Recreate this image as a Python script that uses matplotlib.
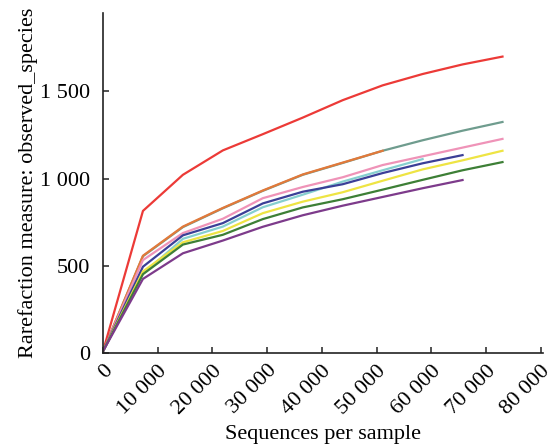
import matplotlib
matplotlib.use("Agg")
import matplotlib.pyplot as plt
from matplotlib.ticker import FuncFormatter

plt.rcParams["font.family"] = ["Liberation Serif", "DejaVu Serif"]

# profundidades de rarefacao (sequencias por amostra)
depth = [0, 7300, 14600, 21900, 29200, 36500, 43800, 51100, 58400, 65700, 73000]

# curvas (observed_species)
red    = [10, 815, 1022, 1162, 1255, 1350, 1450, 1535, 1600, 1655, 1700]
teal   = [10, 555, 722, 830, 930, 1022, 1090, 1160, 1220, 1275, 1325]
orange = [10, 558, 725, 832, 932, 1024, 1092, 1160]
pink   = [10, 533, 688, 770, 888, 952, 1008, 1078, 1128, 1178, 1228]
cyan   = [10, 455, 655, 725, 836, 908, 983, 1048, 1112]
navy   = [10, 495, 675, 745, 858, 925, 968, 1032, 1088, 1135]
yellow = [10, 468, 635, 700, 802, 868, 922, 988, 1053, 1105, 1160]
green  = [10, 452, 622, 678, 768, 835, 882, 937, 993, 1048, 1095]
purple = [10, 425, 572, 645, 724, 790, 845, 895, 945, 992]

series = [
    (teal, "#6f9c8e"),
    (orange, "#e2793a"),
    (red, "#ec3a37"),
    (pink, "#ef93b8"),
    (cyan, "#86cfcf"),
    (navy, "#3b3f97"),
    (yellow, "#eee443"),
    (green, "#3d7f36"),
    (purple, "#7d3b8b"),
]

fig = plt.figure(figsize=(5.58, 4.48), dpi=100)
ax = fig.add_axes([0.1846, 0.212, 0.7885, 0.759])

for vals, col in series:
    ax.plot(depth[:len(vals)], vals, color=col, lw=1.6)

ax.set_xlim(0, 80400)
ax.set_ylim(0, 1950)
ax.set_xticks(range(0, 80001, 10000))
ax.set_yticks([0, 500, 1000, 1500])

fmt = FuncFormatter(lambda v, p: f"{int(v):,}".replace(",", " "))
ax.xaxis.set_major_formatter(fmt)
ax.yaxis.set_major_formatter(fmt)

ax.spines["top"].set_visible(False)
ax.spines["right"].set_visible(False)
for s in ["left", "bottom"]:
    ax.spines[s].set_linewidth(1.2)
    ax.spines[s].set_color("#222222")

ax.tick_params(direction="in", length=4, width=1.1, labelsize=16, color="#222222")
ax.tick_params(axis="x", pad=6)
ax.tick_params(axis="y", pad=9)
for lab in ax.get_xticklabels():
    lab.set_rotation(45)
    lab.set_ha("right")
    lab.set_rotation_mode("anchor")

ax.set_xlabel("Sequences per sample", fontsize=16, labelpad=5)
ax.set_ylabel("Rarefaction measure: observed_species", fontsize=16, labelpad=2)

fig.savefig("out.png", dpi=100)
